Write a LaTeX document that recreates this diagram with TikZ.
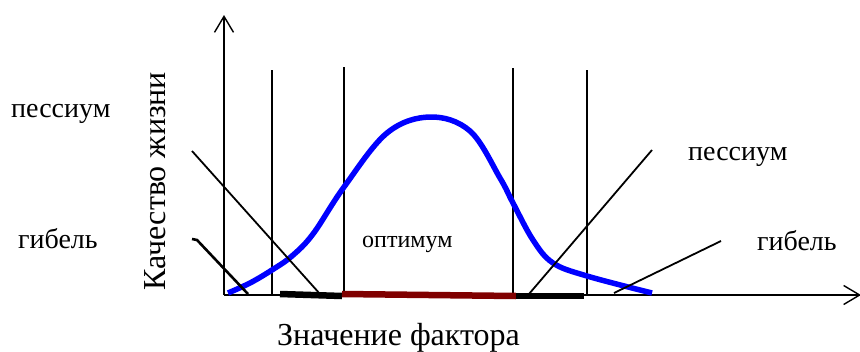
\documentclass[tikz,border=0pt]{standalone}
\usepackage{fontspec}
\setmainfont{Liberation Serif}
\usetikzlibrary{arrows.meta}
\definecolor{darkred}{RGB}{128,0,0}
\begin{document}
\begin{tikzpicture}[x=1pt,y=-1pt,
  axis/.style={line width=1.4pt,-{Straight Barb[length=16pt,width=19pt,line width=1.4pt]}},
  vline/.style={line width=1.2pt},
  diag/.style={line width=1.8pt},
  segline/.style={line width=6.5pt},
  lbl/.style={inner sep=0pt,anchor=base west,font=\fontsize{28}{30}\selectfont},
  curve/.style={blue,line width=5.5pt}]
\useasboundingbox (0,0) rectangle (860,351);
% coordinates
\coordinate (O) at (224,295);
\coordinate (Ytop) at (224,15);
\coordinate (Xend) at (861,295);
\coordinate (v1t) at (272,70);  \coordinate (v1b) at (272,295);
\coordinate (v2t) at (344,67);  \coordinate (v2b) at (344,295);
\coordinate (v3t) at (513,68);  \coordinate (v3b) at (513,295);
\coordinate (v4t) at (587,70);  \coordinate (v4b) at (587,295);
\coordinate (lpA) at (192,151); \coordinate (lpB) at (320,294);
\coordinate (lgA) at (192,239); \coordinate (lgH) at (197,240); \coordinate (lgB) at (248,294);
\coordinate (rpA) at (529,294); \coordinate (rpB) at (652,150);
\coordinate (rgA) at (614,293); \coordinate (rgB) at (721,241);
\coordinate (s1a) at (280,294); \coordinate (s1b) at (342,296);
\coordinate (s2a) at (342,294); \coordinate (s2b) at (516,296);
\coordinate (s3a) at (516,296); \coordinate (s3b) at (584,296);
% axes
\draw[axis] (O) -- (Ytop);
\draw[axis] (O) -- (Xend);
% vertical lines
\draw[vline] (v1t) -- (v1b);
\draw[vline] (v2t) -- (v2b);
\draw[vline] (v3t) -- (v3b);
\draw[vline] (v4t) -- (v4b);
% thick segments
\draw[segline,black] (s1a) -- (s1b);
\draw[segline,darkred] (s2a) -- (s2b);
\draw[segline,black] (s3a) -- (s3b);
% curve
\draw[curve] plot[smooth,tension=0.6] coordinates {(228,293) (250,283) (272,270) (292,256) (313,234) (344,187) (387,133) (430,117) (470,131) (500,178) (513,203) (533,240) (553,263) (587,276) (652,293)};
% diagonals
\draw[diag] (lpA) -- (lpB);
\draw[line width=2.6pt] (lgA) -- (lgH) -- (lgB);
\draw[diag] (rpA) -- (rpB);
\draw[diag] (rgA) -- (rgB);
% labels
\node[lbl] (pl) at (11,117) {пессиум};
\node[lbl] (gl) at (18,248) {гибель};
\node[lbl] (pr) at (688,160) {пессиум};
\node[lbl] (gr) at (757,250) {гибель};
\node[lbl,font=\fontsize{24}{26}\selectfont] (opt) at (362,247) {оптимум};
\node[inner sep=0pt,font=\fontsize{32}{34}\selectfont,rotate=90] (ylab) at (155,181) {Качество жизни};
\node[lbl,font=\fontsize{32}{34}\selectfont] (xlab) at (277,345) {Значение фактора};
\end{tikzpicture}
\end{document}
